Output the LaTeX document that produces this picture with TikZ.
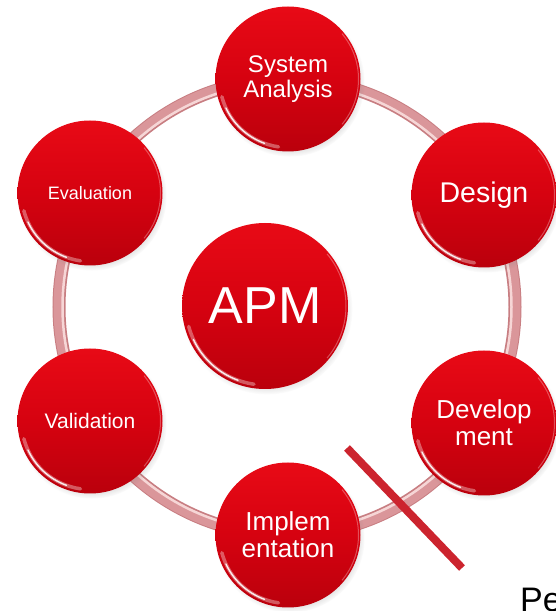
\documentclass[tikz,border=0pt]{standalone}
\usepackage{fontspec}
\setmainfont{Liberation Sans}
\usetikzlibrary{shadows,calc}

\definecolor{balltop}{RGB}{232,10,22}
\definecolor{ballmid}{RGB}{214,2,16}
\definecolor{ballbot}{RGB}{186,0,12}
\definecolor{tubeedge}{RGB}{200,126,130}
\definecolor{tubebody}{RGB}{218,150,154}
\definecolor{tubelight}{RGB}{246,214,214}
\definecolor{strike}{RGB}{204,36,46}

\tikzset{
  ball/.style={circle, inner sep=0pt, minimum size=#1, text=white, align=center,
    top color=balltop, bottom color=ballbot, middle color=ballmid,
    circular drop shadow={shadow scale=1.03, shadow xshift=2pt, shadow yshift=-3pt, opacity=0.35}},
  ball/.default=145pt,
  gloss/.style={draw=white, line cap=round},
}

% glossy rim light on the lower left of a ball: #1 node, #2 radius
\newcommand{\ballgloss}[2]{%
  \draw[gloss, line width=3.5pt, opacity=0.35] ($(#1.center)+(195:#2-4pt)$) arc[start angle=195, end angle=262, radius=#2-4pt];
  \draw[gloss, line width=1.4pt, opacity=0.9] ($(#1.center)+(205:#2-4pt)$) arc[start angle=205, end angle=250, radius=#2-4pt];
  \draw[draw=white, line width=1pt, opacity=0.3] ($(#1.center)+(-40:#2-2pt)$) arc[start angle=-40, end angle=40, radius=#2-2pt];
}

\begin{document}
\begin{tikzpicture}[x=1pt,y=1pt]
  \useasboundingbox (0,0) rectangle (556,611);

  % ring that links the six phases
  \coordinate (hub) at (287,304);
  \draw[tubeedge, line width=13pt] (hub) circle[radius=228];
  \draw[tubebody, line width=10pt] (hub) circle[radius=228.5];
  \draw[tubelight, line width=2.5pt] (hub) circle[radius=224.5];

  % phases
  \node[ball, font=\fontsize{24}{25}\selectfont] (sa) at (288,532) {System\\Analysis};
  \node[ball, font=\fontsize{28.5}{30}\selectfont] (des) at (484,416) {Design};
  \node[ball, font=\fontsize{26}{27}\selectfont] (dev) at (484,188) {Develop\\ment};
  \node[ball, font=\fontsize{26}{27}\selectfont] (imp) at (288,76) {Implem\\entation};
  \node[ball, font=\fontsize{21}{23}\selectfont] (val) at (90,190) {Validation};
  \node[ball, font=\fontsize{18}{20}\selectfont] (eva) at (90,418) {Evaluation};

  % centre
  \node[ball=166pt, font=\fontsize{52}{54}\selectfont] (apm) at (265,305) {APM};

  \ballgloss{sa}{72.5pt}
  \ballgloss{des}{72.5pt}
  \ballgloss{dev}{72.5pt}
  \ballgloss{imp}{72.5pt}
  \ballgloss{val}{72.5pt}
  \ballgloss{eva}{72.5pt}
  \ballgloss{apm}{83pt}

  % strike-through bar
  \coordinate (s1) at (347,163);
  \coordinate (s2) at (462,43);
  \draw[strike, line width=8pt] (s1) -- (s2);

  % caption running off the lower edge
  \node[anchor=base west, inner sep=0pt, font=\fontsize{34}{36}\selectfont] (pe) at (520,-1) {Pe};
\end{tikzpicture}
\end{document}
